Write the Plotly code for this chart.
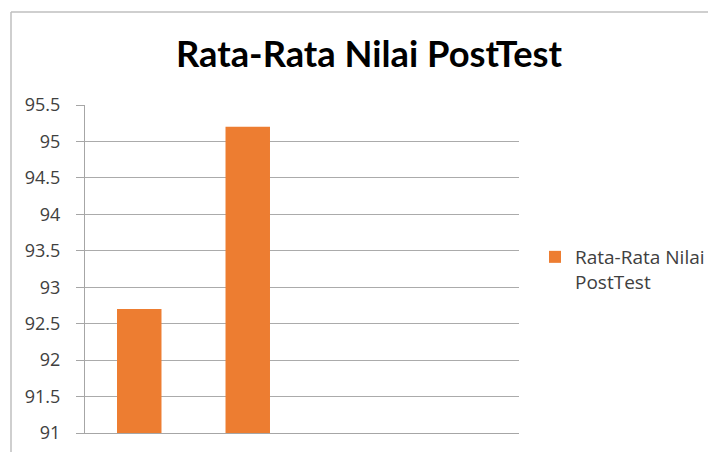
import plotly.graph_objects as go

categories = ["1", "2", "3", "4"]
values = [92.7, 95.2, None, None]
series_name = "Rata-Rata Nilai<br>PostTest"
title_text = "Rata-Rata Nilai PostTest"
tick_vals = [91, 91.5, 92, 92.5, 93, 93.5, 94, 94.5, 95, 95.5]
tick_text = ["91", "91.5", "92", "92.5", "93", "93.5", "94", "94.5", "95", "95.5"]

# page body has an 8px margin; figure coordinates are screen minus 8
W, H = 708, 444
L, T = 77, 97
R = W - 511
B = H - 425
pw, ph = W - L - R, H - T - B

def px_x(p):
    return (p - L) / pw

def px_y(p):
    return (H - B - p) / ph

fig = go.Figure()
fig.add_trace(go.Bar(
    x=categories, y=values, name=series_name,
    marker=dict(color="#ED7D31", line=dict(width=0)),
    showlegend=True,
))

fig.update_layout(
    width=W, height=H,
    margin=dict(l=L, r=R, t=T, b=B, pad=0, autoexpand=False),
    paper_bgcolor="white", plot_bgcolor="white",
    title=dict(text="<b>" + title_text + "</b>", x=361 / W, xanchor="center",
               y=1 - 46 / H, yanchor="middle",
               font=dict(family="Lato, Open Sans, sans-serif", size=36.3, color="#000000")),
    bargap=0.59,
    font=dict(family="Open Sans, Lato, sans-serif", color="#404040"),
    legend=dict(x=px_x(527), y=px_y(230), xanchor="left", yanchor="top",
                font=dict(size=19, color="#404040", family="Open Sans, sans-serif"),
                valign="top", bgcolor="rgba(0,0,0,0)", itemwidth=30),
    xaxis=dict(showticklabels=False, showgrid=False, showline=True, linecolor="#A6A6A6",
               linewidth=1, ticks="", range=[-0.5, 3.5], fixedrange=True),
    yaxis=dict(range=[91, 95.5], tickvals=tick_vals, ticktext=tick_text,
               showgrid=True, gridcolor="#ABABAB", gridwidth=1,
               showline=True, linecolor="#A6A6A6", linewidth=1,
               ticks="outside", ticklen=8, tickcolor="#A6A6A6",
               ticklabelstandoff=12, ticklabeloverflow="allow",
               tickfont=dict(size=18, color="#404040", family="Open Sans, sans-serif"),
               zeroline=False, fixedrange=True),
    shapes=[
        dict(type="line", xref="paper", yref="paper", x0=px_x(3), x1=px_x(720),
             y0=px_y(4), y1=px_y(4), line=dict(color="#BFBFBF", width=1.5)),
        dict(type="line", xref="paper", yref="paper", x0=px_x(3), x1=px_x(3),
             y0=px_y(4), y1=px_y(460), line=dict(color="#BFBFBF", width=1.5)),
    ],
)

fig.write_html("out.html")
